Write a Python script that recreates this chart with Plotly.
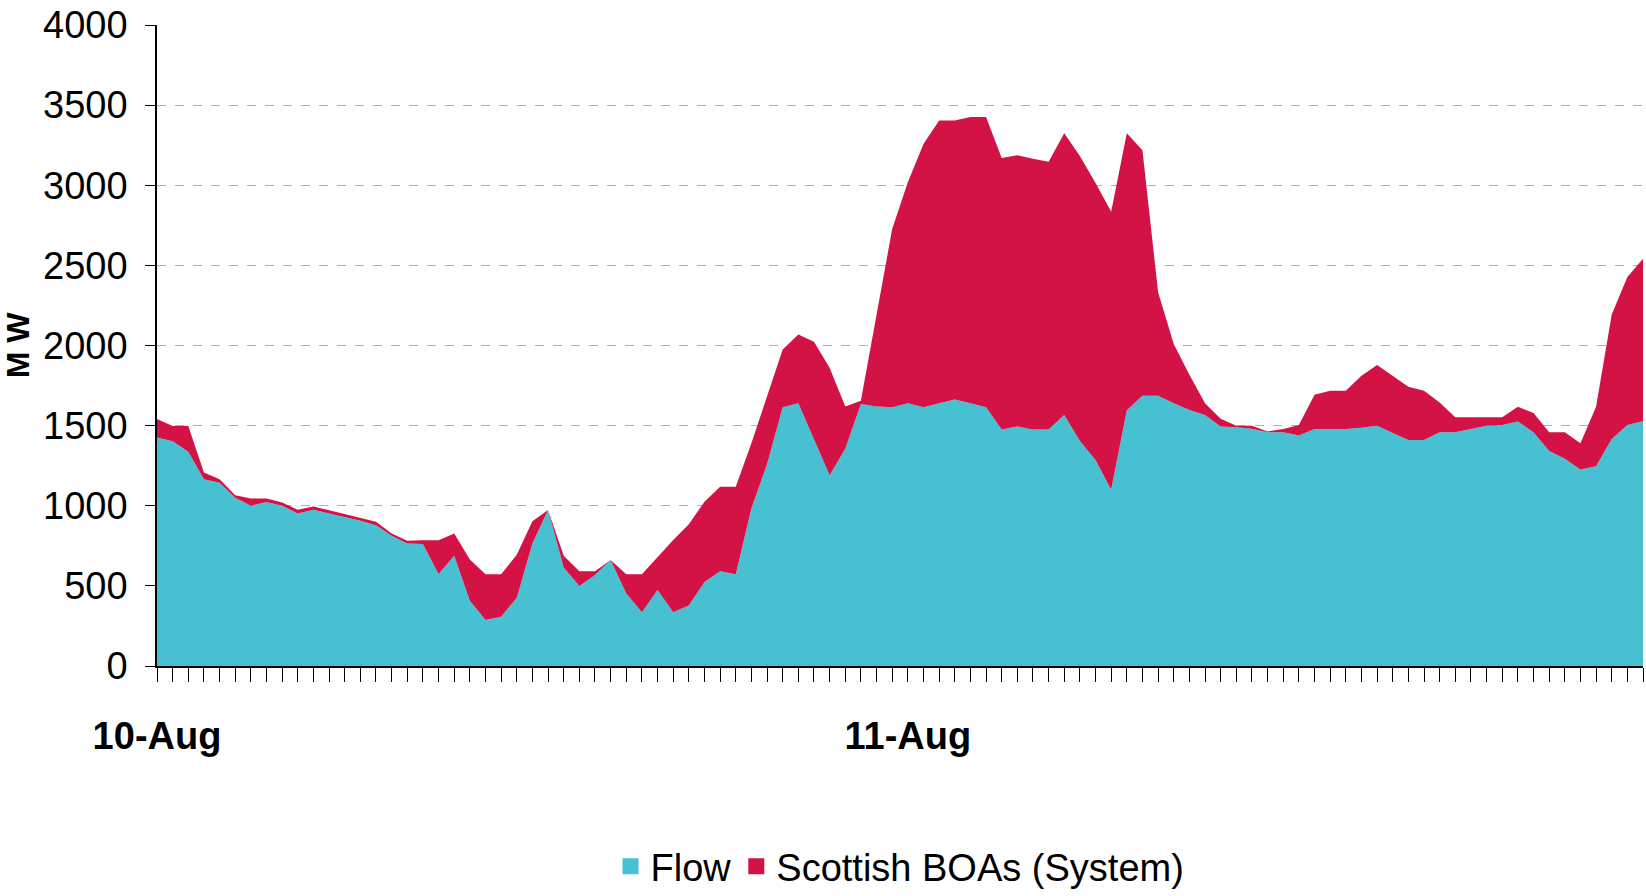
import plotly.graph_objects as go

# Half-hourly settlement periods over two days (index 0 = 10-Aug 00:00, 48 = 11-Aug 00:00)
periods = list(range(96))
tick_positions = [0, 48]
tick_labels = ["10-Aug", "11-Aug"]

flow = [1426, 1403, 1337, 1166, 1143, 1050, 1000, 1023, 1000, 952,
        975, 952, 931, 906, 879, 813, 765, 761, 574, 688,
        407, 287, 308, 426, 765, 973, 615, 499, 568, 661,
        453, 335, 474, 335, 378, 524, 592, 572, 983, 1259,
        1615, 1640, 1415, 1190, 1355, 1635, 1620, 1615, 1639, 1615,
        1639, 1663, 1639, 1615, 1476, 1495, 1476, 1476, 1567, 1404,
        1285, 1100, 1596, 1687, 1687, 1639, 1598, 1567, 1495, 1490,
        1480, 1459, 1459, 1438, 1479, 1479, 1479, 1486, 1500, 1454,
        1411, 1411, 1459, 1459, 1479, 1500, 1504, 1525, 1459, 1341,
        1294, 1226, 1247, 1417, 1504, 1527]

scottish_boas = [115, 94, 160, 42, 23, 16, 46, 23, 21, 23,
                 21, 21, 15, 21, 21, 14, 17, 23, 210, 139,
                 258, 285, 264, 268, 139, 0, 73, 93, 24, 0,
                 119, 237, 208, 451, 506, 501, 526, 546, 407, 426,
                 360, 428, 608, 671, 265, 20, 570, 1112, 1380, 1643,
                 1765, 1741, 1787, 1811, 1694, 1692, 1689, 1670, 1758, 1778,
                 1729, 1735, 1729, 1531, 646, 371, 220, 72, 48, 10,
                 20, 5, 20, 66, 214, 238, 238, 325, 379, 357,
                 331, 306, 186, 93, 73, 52, 48, 93, 120, 118,
                 165, 164, 371, 776, 923, 1014]

FONT = "Liberation Sans Narrow, Arial Narrow, Liberation Sans, Arial, sans-serif"
TEAL = "#47C1D2"
RED = "#D31245"
series_names = ["Flow", "Scottish BOAs (System)"]
series_colors = [TEAL, RED]

fig = go.Figure()
for name, vals, col in zip(series_names, [flow, scottish_boas], series_colors):
    fig.add_trace(go.Scatter(
        x=periods, y=vals, name=name, stackgroup="one", mode="lines",
        line=dict(width=0, color=col), fillcolor=col, showlegend=False,
    ))
# legend entries with square swatches
for name, col in zip(series_names, series_colors):
    fig.add_trace(go.Scatter(
        x=[None], y=[None], name=name, mode="markers",
        marker=dict(symbol="square", size=22, color=col),
    ))

fig.update_layout(
    width=1646, height=896,
    margin=dict(l=157, t=25, r=3, b=230, autoexpand=False),
    paper_bgcolor="white", plot_bgcolor="white",
    font=dict(family=FONT, color="black"),
    showlegend=True,
    legend=dict(
        orientation="h", x=0.5, xanchor="center", y=-0.313, yanchor="middle",
        font=dict(size=38, family=FONT), traceorder="normal",
        itemsizing="trace", itemwidth=30,
    ),
    xaxis=dict(
        range=[0, 95], showgrid=False, zeroline=False, automargin=False,
        showline=True, linecolor="black", linewidth=2,
        tickmode="array", tickvals=tick_positions, ticktext=tick_labels,
        ticks="outside", ticklen=14, tickcolor="black", tickwidth=1,
        tickfont=dict(size=38, family=FONT, weight="bold"),
        ticklabelstandoff=21,
        minor=dict(dtick=1, tick0=0, ticks="outside", ticklen=14, tickcolor="black", tickwidth=1, showgrid=False),
    ),
    yaxis=dict(
        range=[0, 4000], dtick=500, tick0=0, automargin=False,
        showgrid=True, gridcolor="#B0B0B0", griddash="dash", gridwidth=1,
        zeroline=False, showline=True, linecolor="black", linewidth=1.5,
        ticks="outside", ticklen=10, tickcolor="black",
        tickfont=dict(size=38, family=FONT),
        ticklabelstandoff=10,
        title=dict(text="M W", font=dict(size=32, family=FONT, weight="bold"), standoff=12),
    ),
)

fig.write_html("out.html")
